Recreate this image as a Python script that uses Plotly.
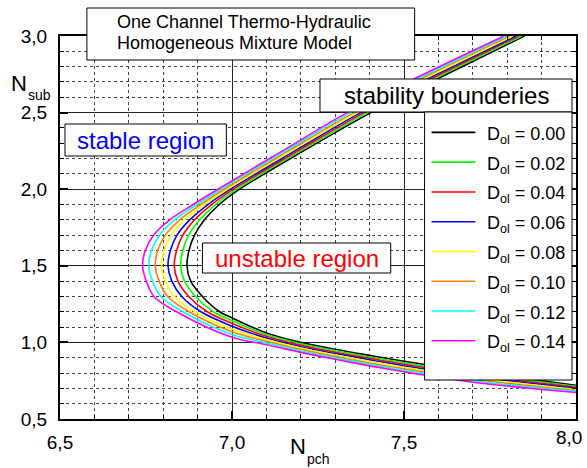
import plotly.graph_objects as go

# ---------------- data ----------------
d_ol = ["0.00", "0.02", "0.04", "0.06", "0.08", "0.10", "0.12", "0.14"]
colors = ["#000000", "#00ff00", "#ff0000", "#0000ff", "#ffff00", "#ff8000", "#00ffff", "#ff00ff"]

# upper branch + nose: N_pch read at these N_sub levels
nsub_levels = [3.0, 2.75, 2.5, 2.25, 2.0, 1.9, 1.8, 1.7, 1.6, 1.5, 1.4, 1.3, 1.2]
# lower branch: N_sub read at these N_pch positions
npch_levels = [7.0, 7.1, 7.2, 7.3, 7.4, 7.5, 7.6, 7.7, 7.8, 7.9, 8.0]

upper_npch_000 = [7.850, 7.624, 7.404, 7.208, 7.022, 6.963, 6.920, 6.891, 6.875, 6.869, 6.880, 6.914, 6.964]
upper_npch_002 = [7.842, 7.614, 7.394, 7.199, 7.013, 6.952, 6.906, 6.874, 6.857, 6.851, 6.862, 6.894, 6.946]
upper_npch_004 = [7.833, 7.605, 7.384, 7.191, 7.004, 6.941, 6.891, 6.857, 6.839, 6.832, 6.843, 6.874, 6.928]
upper_npch_006 = [7.825, 7.595, 7.374, 7.182, 6.995, 6.930, 6.877, 6.840, 6.821, 6.814, 6.825, 6.854, 6.910]
upper_npch_008 = [7.816, 7.586, 7.365, 7.173, 6.986, 6.920, 6.862, 6.823, 6.802, 6.795, 6.806, 6.833, 6.893]
upper_npch_010 = [7.808, 7.576, 7.355, 7.164, 6.977, 6.909, 6.848, 6.806, 6.784, 6.777, 6.788, 6.813, 6.875]
upper_npch_012 = [7.799, 7.567, 7.345, 7.156, 6.968, 6.898, 6.833, 6.789, 6.766, 6.758, 6.769, 6.793, 6.857]
upper_npch_014 = [7.791, 7.557, 7.335, 7.147, 6.959, 6.887, 6.819, 6.772, 6.748, 6.740, 6.751, 6.773, 6.839]

lower_nsub_000 = [1.160, 1.062, 1.000, 0.955, 0.915, 0.877, 0.841, 0.808, 0.777, 0.749, 0.720]
lower_nsub_002 = [1.142, 1.051, 0.991, 0.946, 0.905, 0.867, 0.831, 0.798, 0.768, 0.741, 0.713]
lower_nsub_004 = [1.124, 1.040, 0.981, 0.936, 0.896, 0.857, 0.821, 0.789, 0.759, 0.733, 0.707]
lower_nsub_006 = [1.106, 1.029, 0.972, 0.927, 0.886, 0.847, 0.811, 0.779, 0.750, 0.725, 0.700]
lower_nsub_008 = [1.087, 1.018, 0.963, 0.918, 0.876, 0.838, 0.802, 0.769, 0.742, 0.717, 0.693]
lower_nsub_010 = [1.069, 1.007, 0.954, 0.909, 0.866, 0.828, 0.792, 0.759, 0.733, 0.709, 0.686]
lower_nsub_012 = [1.051, 0.996, 0.944, 0.899, 0.857, 0.818, 0.782, 0.750, 0.724, 0.701, 0.680]
lower_nsub_014 = [1.033, 0.985, 0.935, 0.890, 0.847, 0.808, 0.772, 0.740, 0.715, 0.693, 0.673]

upper_npch = [upper_npch_000, upper_npch_002, upper_npch_004, upper_npch_006,
              upper_npch_008, upper_npch_010, upper_npch_012, upper_npch_014]
lower_nsub = [lower_nsub_000, lower_nsub_002, lower_nsub_004, lower_nsub_006,
              lower_nsub_008, lower_nsub_010, lower_nsub_012, lower_nsub_014]

x_ticks = [6.5, 7.0, 7.5, 8.0]
y_ticks = [0.5, 1.0, 1.5, 2.0, 2.5, 3.0]
last_x_label = "8,0"   # drawn at the page edge (the axis hides it, it would overflow)

# ---------------- geometry helpers (pixel -> paper) ----------------
W, H = 587, 468
L, R, T, B = 60, 578, 36, 419
def px(x):
    return (x - L) / (R - L)
def py(y):
    return (B - y) / (B - T)

FONT = "Liberation Sans, Arial, sans-serif"

fig = go.Figure()
for up_x, lo_y, c, d in zip(upper_npch, lower_nsub, colors, d_ol):
    fig.add_trace(go.Scatter(
        x=up_x + npch_levels, y=nsub_levels + lo_y, mode="lines",
        name=f"D<sub>ol</sub> = {d}",
        line=dict(color=c, width=1.6, shape="spline", smoothing=1.0),
        showlegend=False,
    ))

axis_common = dict(
    showline=True, linecolor="black", linewidth=2, mirror="ticks",
    ticks="inside", ticklen=8, tickwidth=1.5, tickcolor="black",
    showgrid=True, gridcolor="#222222", gridwidth=1,
    zeroline=False, tickformat=".1f",
    tickfont=dict(family=FONT, size=19, color="black"),
    minor=dict(dtick=0.1, ticks="inside", ticklen=4, tickcolor="black", tickwidth=1,
               showgrid=True, gridcolor="#444444", griddash="dot", gridwidth=1),
)

fig.update_xaxes(range=[6.5, 8.0], tickvals=x_ticks, ticklabelstandoff=5, **axis_common)
fig.update_yaxes(range=[0.5, 3.0], tickvals=y_ticks, ticklabelstandoff=7, **axis_common)

shapes = []
annots = []

def box(x0, y0, x1, y1):
    shapes.append(dict(type="rect", xref="paper", yref="paper",
                       x0=px(x0), x1=px(x1), y0=py(y1), y1=py(y0),
                       fillcolor="white", line=dict(color="black", width=1), layer="above"))

def text(x, y, s, size, color="black", xanchor="center"):
    annots.append(dict(xref="paper", yref="paper", x=px(x), y=py(y), text=s,
                       showarrow=False, xanchor=xanchor, yanchor="middle",
                       font=dict(family=FONT, size=size, color=color)))

# title box
box(87, 8, 416, 60)
text(115, 22, "One Channel Thermo-Hydraulic", 18, xanchor="left")
text(115, 43, "Homogeneous Mixture Model", 18, xanchor="left")

# region labels
box(65, 124, 227, 156)
text(146, 140, "stable region", 24, color="#0000ff")
box(203, 243, 392, 273)
text(297.5, 258, "unstable region", 24, color="#ff0000")

# legend
box(321, 79, 574, 112)
text(447.5, 95.5, "stability bounderies", 24)
box(426, 112, 574, 380)
row0, step = 132.4, 29.77
for i, (c, d) in enumerate(zip(colors, d_ol)):
    yy = row0 + i * step
    shapes.append(dict(type="line", xref="paper", yref="paper",
                       x0=px(433), x1=px(477), y0=py(yy), y1=py(yy),
                       line=dict(color=c, width=1.6), layer="above"))
    text(487, yy + 3, f"D<sub>ol</sub> = {d}", 18, xanchor="left")

# axis titles (main letter + subscript as separate texts)
text(9, 84, "N", 22, xanchor="left")
text(26, 95, "sub", 14, xanchor="left")
text(289, 447, "N", 22, xanchor="left")
text(306, 459, "pch", 14, xanchor="left")

# last x tick label, kept inside the page
text(586, 437, last_x_label, 19, xanchor="right")

fig.update_layout(
    width=W, height=H,
    margin=dict(l=L, r=W - R, t=T, b=H - B, pad=0),
    paper_bgcolor="white", plot_bgcolor="white",
    separators=",.",
    showlegend=False,
    shapes=shapes, annotations=annots,
    font=dict(family=FONT, color="black"),
)

fig.write_html("out.html")
